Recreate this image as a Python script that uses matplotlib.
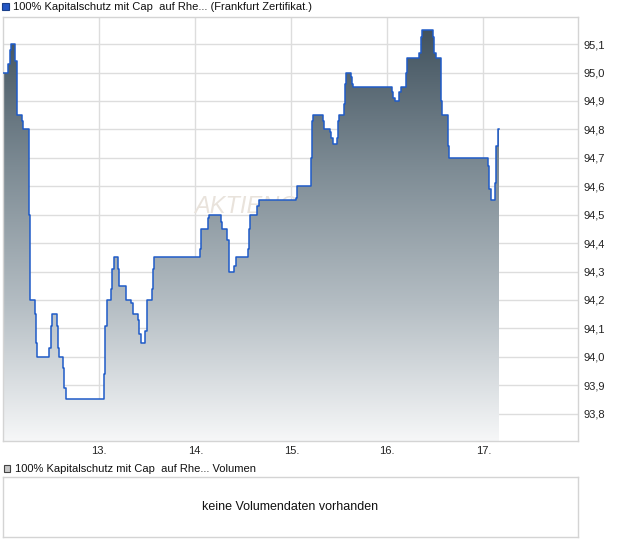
import matplotlib
matplotlib.use("Agg")
import matplotlib.pyplot as plt
import matplotlib.patches as mpatches
from matplotlib.colors import LinearSegmentedColormap
from matplotlib.ticker import FuncFormatter
import numpy as np

plt.rcParams['font.family'] = ['Liberation Sans', 'DejaVu Sans']

# ---- data (fractional day of month, price) ----
times = [11.994, 12.052, 12.070, 12.077, 12.122, 12.140, 12.146, 12.198, 12.208, 12.271,
         12.281, 12.330, 12.341, 12.354, 12.479, 12.494, 12.504, 12.556, 12.567, 12.577,
         12.625, 12.635, 12.650, 13.052, 13.063, 13.077, 13.122, 13.135, 13.150, 13.198,
         13.208, 13.278, 13.330, 13.348, 13.406, 13.417, 13.431, 13.479, 13.494, 13.552,
         13.563, 13.573, 14.052, 14.063, 14.129, 14.143, 14.271, 14.281, 14.333, 14.348,
         14.354, 14.406, 14.424, 14.552, 14.563, 14.573, 14.646, 14.660, 15.049, 15.063,
         15.202, 15.212, 15.219, 15.229, 15.333, 15.344, 15.403, 15.417, 15.431, 15.479,
         15.490, 15.500, 15.552, 15.559, 15.570, 15.622, 15.635, 15.646, 16.052, 16.063,
         16.075, 16.122, 16.138, 16.195, 16.208, 16.333, 16.348, 16.358, 16.479, 16.490,
         16.504, 16.556, 16.573, 16.629, 16.635, 16.646, 17.052, 17.063, 17.077, 17.125,
         17.135, 17.150]
prices = [95.00, 95.03, 95.08, 95.10, 95.04, 94.90, 94.85, 94.83, 94.80, 94.50,
          94.20, 94.15, 94.05, 94.00, 94.03, 94.11, 94.15, 94.11, 94.03, 94.00,
          93.96, 93.89, 93.85, 93.94, 94.11, 94.20, 94.24, 94.31, 94.35, 94.31,
          94.25, 94.20, 94.19, 94.15, 94.13, 94.08, 94.05, 94.09, 94.20, 94.24,
          94.31, 94.35, 94.38, 94.45, 94.49, 94.50, 94.475, 94.45, 94.41, 94.34,
          94.30, 94.32, 94.35, 94.38, 94.45, 94.50, 94.53, 94.55, 94.56, 94.60,
          94.70, 94.81, 94.83, 94.85, 94.83, 94.80, 94.79, 94.77, 94.75, 94.77,
          94.83, 94.85, 94.89, 94.96, 95.00, 94.985, 94.96, 94.95, 94.93, 94.91,
          94.90, 94.93, 94.95, 95.00, 95.05, 95.07, 95.125, 95.15, 95.125, 95.07,
          95.05, 94.90, 94.85, 94.81, 94.74, 94.70, 94.67, 94.59, 94.55, 94.61,
          94.74, 94.80]
end_time = 17.160

x_ticks = [13, 14, 15, 16, 17]
x_labels = ["13.", "14.", "15.", "16.", "17."]
y_ticks = [93.8, 93.9, 94.0, 94.1, 94.2, 94.3, 94.4, 94.5, 94.6, 94.7, 94.8, 94.9, 95.0, 95.1]

title_main = "100% Kapitalschutz mit Cap  auf Rhe... (Frankfurt Zertifikat.)"
title_vol = "100% Kapitalschutz mit Cap  auf Rhe... Volumen"
no_vol = "keine Volumendaten vorhanden"

W, H = 620, 546
fig = plt.figure(figsize=(W / 100, H / 100), dpi=100)

def fx(px):
    return px / W

def fy(py):
    return 1 - py / H

# ---- main axes ----
left, right, top, bottom = 2.5, 578, 16.5, 440.7
ax = fig.add_axes([fx(left), fy(bottom), (right - left) / W, (bottom - top) / H])
xmin, xmax = 11.992, 17.986
ymin, ymax = 93.705, 95.197
ax.set_xlim(xmin, xmax)
ax.set_ylim(ymin, ymax)

tx = np.array(times + [end_time])
py = np.array(prices + [prices[-1]])

# gradient fill clipped to area under the step line
poly = ax.fill_between(tx, py, ymin, step='post', facecolor='none', edgecolor='none', zorder=2)
cmap = LinearSegmentedColormap.from_list("g", ["#f6f7f8", "#b4bdc3", "#7d8b94", "#42535f"])
grad = np.linspace(0, 1, 256).reshape(-1, 1)
top_val = max(prices)
im = ax.imshow(grad, extent=[xmin, xmax, ymin, top_val], origin='lower', aspect='auto',
               cmap=cmap, zorder=2, interpolation='bicubic')
path = poly.get_paths()[0]
im.set_clip_path(path, transform=ax.transData)
ax.set_xlim(xmin, xmax)
ax.set_ylim(ymin, ymax)

ax.step(tx, py, where='post', color='#1f5bc8', lw=1.1, zorder=3)

# watermark (behind fill)
ax.text(13.985, 94.505, "AKTIENCHECK.DE", fontsize=17, style='italic', color='#e9e3dc',
        ha='left', va='baseline', zorder=1.5)

ax.set_xticks(x_ticks)
ax.set_xticklabels(x_labels)
ax.set_yticks(y_ticks)
ax.yaxis.set_major_formatter(FuncFormatter(lambda v, p: f"{v:.1f}".replace('.', ',')))
ax.yaxis.tick_right()
ax.tick_params(axis='y', length=0, pad=4, labelsize=8, colors='#222222')
ax.tick_params(axis='x', length=0, pad=4, labelsize=8, colors='#222222')
ax.grid(True, color='#dddddd', lw=1, zorder=0)
ax.set_axisbelow(True)
for s in ax.spines.values():
    s.set_color('#d4d4d4')
    s.set_linewidth(1)

# ---- top legend ----
fig.patches.append(mpatches.Rectangle((fx(2), fy(9.5)), 7 / W, 7 / H, transform=fig.transFigure,
                                      facecolor='#2457c4', edgecolor='#1a3f8a', lw=0.8))
fig.text(fx(13), fy(6.5), title_main, fontsize=8, va='center', ha='left', color='#111111')

# ---- volume legend ----
fig.patches.append(mpatches.Rectangle((fx(3.5), fy(472)), 7 / W, 7 / H, transform=fig.transFigure,
                                      facecolor='#c8c8c8', edgecolor='#444444', lw=0.8))
fig.text(fx(15), fy(468.5), title_vol, fontsize=8, va='center', ha='left', color='#111111')

# ---- volume box ----
ax2 = fig.add_axes([fx(3), fy(537), (578 - 3) / W, (537 - 477) / H])
ax2.set_xticks([])
ax2.set_yticks([])
for s in ax2.spines.values():
    s.set_color('#d4d4d4')
    s.set_linewidth(1)
ax2.text(0.5, 0.5, no_vol, transform=ax2.transAxes, ha='center', va='center',
         fontsize=9, color='#111111')

fig.savefig("out.png", dpi=100)
